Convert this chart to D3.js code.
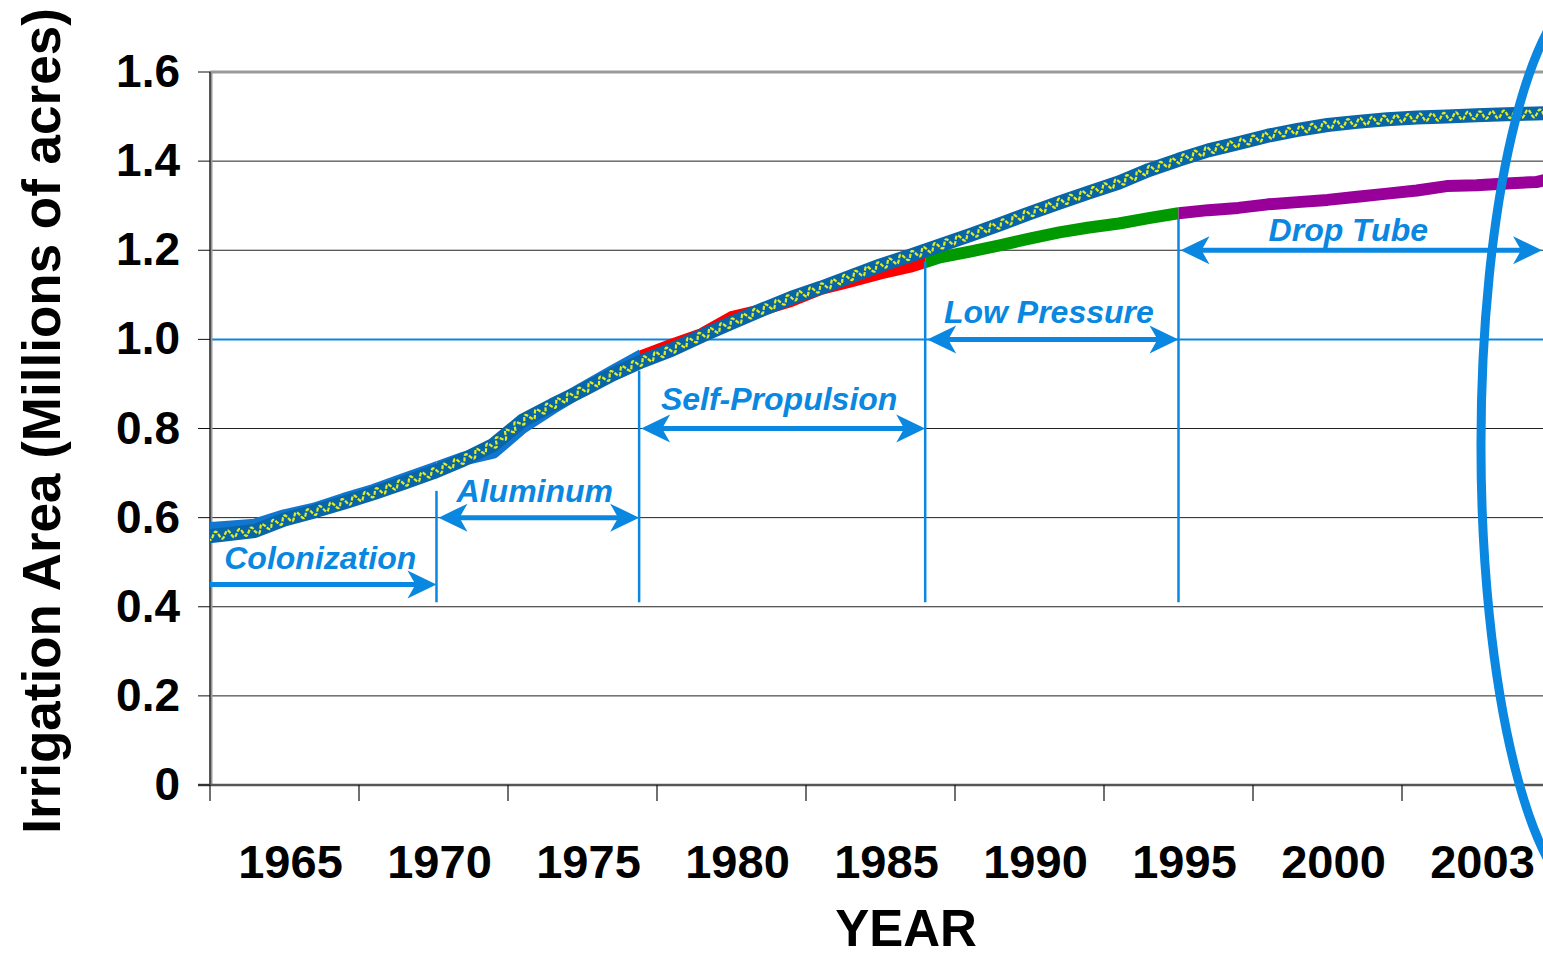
<!DOCTYPE html>
<html><head><meta charset="utf-8">
<script src="https://cdn.jsdelivr.net/npm/d3@7/dist/d3.min.js"></script>
<style>body{margin:0;background:#fff;} svg{display:block;font-family:"Liberation Sans",Arial,sans-serif;}</style>
</head><body>
<svg id="chart" width="1543" height="957"></svg>
<script>
// ---------------- data ----------------
const years = d3.range(1962, 2009); // 1962..2008
const totalArea = [0.555,0.562,0.570,0.596,0.614,0.634,0.655,0.678,0.702,0.730,
  0.763,0.818,0.853,0.886,0.921,0.951,0.977,1.008,1.037,1.066,
  1.093,1.116,1.141,1.166,1.188,1.211,1.234,1.258,1.283,1.307,
  1.330,1.352,1.380,1.403,1.424,1.440,1.457,1.470,1.481,1.488,
  1.494,1.498,1.500,1.503,1.505,1.507,1.509];
const methodArea = [0.572,0.577,0.582,0.603,0.618,0.640,0.660,0.684,0.708,0.732,
  0.748,0.805,0.848,0.888,0.926,0.963,0.988,1.012,1.050,1.066,
  1.086,1.113,1.130,1.148,1.163,1.184,1.197,1.211,1.226,1.240,
  1.251,1.260,1.272,1.283,1.290,1.295,1.303,1.308,1.313,1.320,
  1.327,1.334,1.344,1.346,1.350,1.353,1.368];
const eraNames  = ["Colonization","Aluminum","Self-Propulsion","Low Pressure","Drop Tube"];
const eraStart  = [1962.5, 1970.1, 1976.9, 1986.5, 1995.0];
const eraEnd    = [1970.1, 1976.9, 1986.5, 1995.0, 2007.2];
const eraLevel  = [0.45, 0.6, 0.8, 1.0, 1.2];
const eraMarkerTop = [null, 0.66, 0.93, 1.175, 1.27];
const markerBottom = 0.41;
const eraLineColors = ["#1176cf","#1176cf","#ff0000","#009900","#990099"];
const yTicks = [0, 0.2, 0.4, 0.6, 0.8, 1.0, 1.2, 1.4, 1.6];
const yTickLabels = ["0","0.2","0.4","0.6","0.8","1.0","1.2","1.4","1.6"];
const xTickLabels = ["1965","1970","1975","1980","1985","1990","1995","2000","2003"];
const ellipseCenter = {year: 2009.11, value: 0.763};
const ellipseRadius = {years: 3.96, value: 1.032};

// ---------------- layout ----------------
const L = 210, R = 1551, T = 72, B = 785;
const blue = "#0a87e0";
const svg = d3.select("#chart");
const x = d3.scaleLinear().domain([1962.5, 2007.5]).range([L, R]);
const xBand = d3.scaleBand().domain(xTickLabels).range([L, R]).padding(0);
const y = d3.scaleLinear().domain([0, 1.6]).range([B, T]);

svg.append("defs").append("clipPath").attr("id","plotclip")
  .append("rect").attr("x", L).attr("y", T - 20).attr("width", R - L).attr("height", B - T + 20);

// gridlines
svg.append("g").selectAll("line").data(yTicks.filter(v => v > 0 && v < 1.6)).join("line")
  .attr("x1", L).attr("x2", R).attr("y1", d => y(d)).attr("y2", d => y(d))
  .attr("stroke", d => Math.abs(d - 1.0) < 1e-9 ? blue : "#222")
  .attr("stroke-width", d => Math.abs(d - 1.0) < 1e-9 ? 2 : 1);
// top border
svg.append("line").attr("x1", L).attr("x2", R).attr("y1", y(1.6)).attr("y2", y(1.6))
  .attr("stroke", "#999").attr("stroke-width", 3);
// left axis
svg.append("line").attr("x1", L + 1).attr("x2", L + 1).attr("y1", y(1.6) - 1).attr("y2", B)
  .attr("stroke", "#999").attr("stroke-width", 3);
svg.append("line").attr("x1", L).attr("x2", L).attr("y1", y(1.6)).attr("y2", B)
  .attr("stroke", "#333").attr("stroke-width", 1.5);
// bottom axis
svg.append("line").attr("x1", L - 12).attr("x2", R).attr("y1", B).attr("y2", B)
  .attr("stroke", "#555").attr("stroke-width", 2.5);
// y ticks + labels
svg.append("g").selectAll("line").data(yTicks).join("line")
  .attr("x1", L - 12).attr("x2", L).attr("y1", d => y(d)).attr("y2", d => y(d))
  .attr("stroke", "#111").attr("stroke-width", 1);
svg.append("g").selectAll("text").data(yTicks).join("text")
  .attr("x", 180).attr("y", d => y(d) + 15)
  .attr("text-anchor", "end").attr("font-size", 46).attr("font-weight", "bold").attr("fill", "#000")
  .text((d, i) => yTickLabels[i]);
// x ticks + labels
const xTickPos = xTickLabels.map(l => xBand(l)).concat([R]);
svg.append("g").selectAll("line").data(xTickPos).join("line")
  .attr("x1", d => d).attr("x2", d => d).attr("y1", B).attr("y2", B + 16)
  .attr("stroke", "#111").attr("stroke-width", 1.2);
svg.append("g").selectAll("text").data(xTickLabels).join("text")
  .attr("x", d => xBand(d) + xBand.bandwidth() / 2 + 6).attr("y", 878)
  .attr("text-anchor", "middle").attr("font-size", 47).attr("font-weight", "bold").attr("fill", "#000")
  .text(d => d);
// axis titles
svg.append("text").attr("x", 906).attr("y", 946).attr("text-anchor", "middle")
  .attr("font-size", 51).attr("font-weight", "bold").text("YEAR");
svg.append("text").attr("transform", "translate(60,421) rotate(-90)").attr("text-anchor", "middle")
  .attr("font-size", 53).attr("font-weight", "bold").text("Irrigation Area (Millions of acres)");

// ---------------- lines ----------------
const line = d3.line().x((d, i) => x(years[i])).y(d => y(d));
const plot = svg.append("g").attr("clip-path", "url(#plotclip)");
const defs = svg.select("defs");
eraNames.forEach((n, i) => {
  const x0 = i === 0 ? L - 20 : x(eraStart[i]);
  const x1 = i === eraNames.length - 1 ? R + 20 : x(eraEnd[i]);
  defs.append("clipPath").attr("id", "era" + i).append("rect")
    .attr("x", x0).attr("y", 0).attr("width", x1 - x0).attr("height", 957);
  plot.append("g").attr("clip-path", `url(#era${i})`).append("path")
    .attr("d", line(methodArea)).attr("fill", "none")
    .attr("stroke", eraLineColors[i]).attr("stroke-width", i < 2 ? 14 : 12)
    .attr("stroke-linejoin", "round");
});
// total (textured) series
const base = plot.append("path").attr("d", line(totalArea)).attr("fill", "none")
  .attr("stroke", "#0866a8").attr("stroke-width", 14).attr("stroke-linejoin", "round");
const node = base.node();
const len = node.getTotalLength();
const wave = [];
const period = 12, amp = 3.8;
for (let s = 0; s <= len; s += 0.8) {
  const p = node.getPointAtLength(s);
  const a = node.getPointAtLength(Math.max(0, s - 1));
  const b = node.getPointAtLength(Math.min(len, s + 1));
  const dx = b.x - a.x, dy = b.y - a.y, n = Math.hypot(dx, dy) || 1;
  const off = amp * Math.sin(2 * Math.PI * s / period);
  wave.push([p.x - dy / n * off, p.y + dx / n * off]);
}
plot.append("path").attr("d", d3.line()(wave)).attr("fill", "none")
  .attr("stroke", "#e2ec22").attr("stroke-width", 2.2).attr("stroke-dasharray", "4,1.5");

// ---------------- era annotations ----------------
function arrowHead(g, tx, ty, dir) {
  const p = [[tx, ty], [tx - dir * 29, ty - 14], [tx - dir * 21, ty], [tx - dir * 29, ty + 14]];
  g.append("path").attr("d", "M" + p.map(q => q.join(",")).join("L") + "Z").attr("fill", blue);
}
const ann = svg.append("g");
const labelGap = [15, 16, 19, 16, 9];
eraNames.forEach((n, i) => {
  const x0 = x(eraStart[i]), x1 = x(eraEnd[i]), yy = y(eraLevel[i]);
  ann.append("line").attr("x1", x0 + (i === 0 ? 0 : 8)).attr("x2", x1 - 8).attr("y1", yy).attr("y2", yy)
    .attr("stroke", blue).attr("stroke-width", 5);
  arrowHead(ann, x1, yy, 1);
  if (i > 0) arrowHead(ann, x0 + 2, yy, -1);
  ann.append("text").attr("x", (x0 + x1) / 2 - (i === 4 ? 12 : 3)).attr("y", yy - labelGap[i])
    .attr("text-anchor", "middle").attr("font-size", 32).attr("font-weight", "bold")
    .attr("font-style", "italic").attr("fill", blue).text(n);
  if (eraMarkerTop[i] !== null) {
    ann.append("line").attr("x1", x0).attr("x2", x0)
      .attr("y1", y(eraMarkerTop[i])).attr("y2", y(markerBottom))
      .attr("stroke", blue).attr("stroke-width", 2.5);
  }
});
// big ellipse
const ecx = x(ellipseCenter.year), ecy = y(ellipseCenter.value);
svg.append("ellipse").attr("cx", ecx).attr("cy", ecy)
  .attr("rx", x(ellipseCenter.year + ellipseRadius.years) - ecx)
  .attr("ry", y(0) - y(ellipseRadius.value))
  .attr("fill", "none").attr("stroke", blue).attr("stroke-width", 9);
</script>
</body></html>
